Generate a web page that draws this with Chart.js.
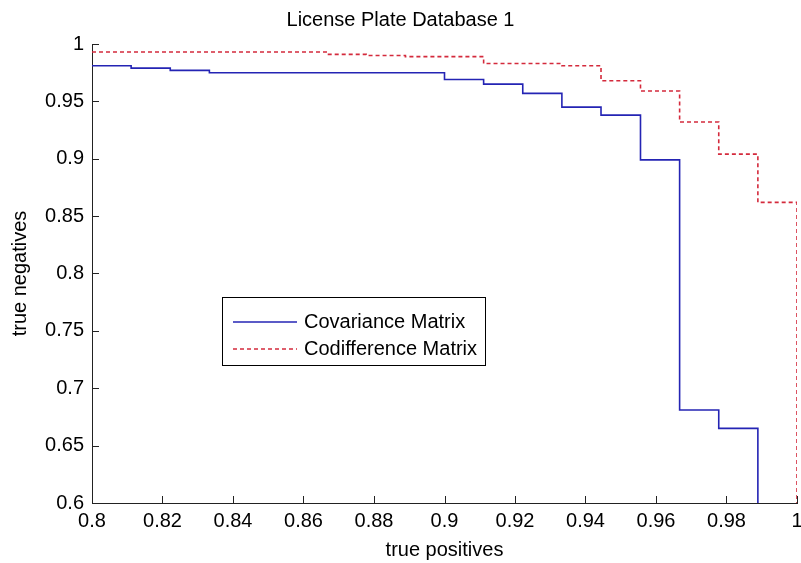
<!DOCTYPE html>
<html>
<head>
<meta charset="utf-8">
<script src="https://cdn.jsdelivr.net/npm/chart.js@4.4.1/dist/chart.umd.min.js"></script>
<style>
  html, body { margin: 0; background: #fff; }
  #wrap { width: 801px; height: 563px; }
</style>
</head>
<body>
<div id="wrap"><canvas id="chart"></canvas></div>
<script>
// true positive rate where each step starts, and the true negative rate after it
const covX = [0.8, 0.8111, 0.8222, 0.8333, 0.9, 0.9111, 0.9222, 0.9333, 0.9444, 0.9556, 0.9667, 0.9778, 0.9889];
const covY = [0.981, 0.979, 0.977, 0.975, 0.969, 0.965, 0.957, 0.945, 0.938, 0.899, 0.681, 0.665, 0.6];

const codX = [0.8, 0.8667, 0.8778, 0.8889, 0.9111, 0.9333, 0.9444, 0.9556, 0.9667, 0.9778, 0.9889, 1.0];
const codY = [0.993, 0.991, 0.990, 0.989, 0.983, 0.981, 0.968, 0.959, 0.932, 0.904, 0.862, 0.6];

const xTicks = [0.8, 0.82, 0.84, 0.86, 0.88, 0.9, 0.92, 0.94, 0.96, 0.98, 1];
const yTicks = [0.6, 0.65, 0.7, 0.75, 0.8, 0.85, 0.9, 0.95, 1];

const seriesNames = ['Covariance Matrix', 'Codifference Matrix'];

const toPoints = (xs, ys) => xs.map((x, i) => ({ x: x, y: ys[i] }));

Chart.defaults.font.family = "'Liberation Sans', Arial, sans-serif";
Chart.defaults.font.size = 20;
Chart.defaults.color = '#000';

// matlab style ticks pointing into the plot
const innerTicks = {
    id: 'innerTicks',
    afterDraw(chart) {
        const { ctx, scales: { x, y }, chartArea } = chart;
        ctx.save();
        ctx.strokeStyle = '#222';
        ctx.lineWidth = 1;
        ctx.beginPath();
        xTicks.forEach(v => {
            const px = Math.round(x.getPixelForValue(v)) + 0.5;
            ctx.moveTo(px, chartArea.bottom);
            ctx.lineTo(px, chartArea.bottom - 7);
        });
        yTicks.forEach(v => {
            const py = Math.round(y.getPixelForValue(v)) + 0.5;
            ctx.moveTo(chartArea.left, py);
            ctx.lineTo(chartArea.left + 7, py);
        });
        ctx.stroke();
        ctx.restore();
    }
};

// boxed legend inside the axes
const boxLegend = {
    id: 'boxLegend',
    afterDraw(chart) {
        const ctx = chart.ctx;
        const left = 222, top = 297, w = 263, h = 68;
        ctx.save();
        ctx.fillStyle = '#fff';
        ctx.fillRect(left, top, w, h);
        ctx.strokeStyle = '#000';
        ctx.lineWidth = 1;
        ctx.strokeRect(left + 0.5, top + 0.5, w, h);
        chart.data.datasets.forEach((ds, i) => {
            const yy = top + 25 + i * 27;
            ctx.beginPath();
            ctx.strokeStyle = ds.borderColor;
            ctx.lineWidth = ds.borderWidth;
            ctx.setLineDash(ds.borderDash || []);
            ctx.moveTo(left + 11, yy);
            ctx.lineTo(left + 75, yy);
            ctx.stroke();
            ctx.setLineDash([]);
            ctx.fillStyle = '#000';
            ctx.font = "20px 'Liberation Sans', Arial, sans-serif";
            ctx.textBaseline = 'middle';
            ctx.fillText(ds.label, left + 82, yy);
        });
        ctx.restore();
    }
};

const chart = document.querySelector('#chart').getContext('2d');

new Chart(chart, {
    type: 'line',
    data: {
        datasets: [
            {
                label: seriesNames[0],
                data: toPoints(covX, covY),
                borderColor: '#2424b4',
                borderWidth: 1.6,
                stepped: 'before',
                pointRadius: 0,
                fill: false
            },
            {
                label: seriesNames[1],
                data: toPoints(codX, codY),
                borderColor: '#d42a3c',
                borderWidth: 1.6,
                borderDash: [4, 3],
                stepped: 'before',
                pointRadius: 0,
                fill: false
            }
        ]
    },
    options: {
        responsive: true,
        maintainAspectRatio: false,
        animation: false,
        layout: { padding: 0 },
        plugins: {
            legend: { display: false },
            tooltip: { enabled: false },
            title: {
                display: true,
                text: 'License Plate Database 1',
                font: { size: 20, weight: 'normal' },
                padding: { top: 8, bottom: 12 }
            }
        },
        scales: {
            x: {
                type: 'linear',
                min: 0.8,
                max: 1,
                afterBuildTicks: s => { s.ticks = xTicks.map(v => ({ value: v })); },
                afterFit: s => { s.height = 60; s.paddingRight = 4; },
                ticks: {
                    padding: 6,
                    maxRotation: 0,
                    callback: v => String(+v.toFixed(2))
                },
                grid: { drawOnChartArea: false, drawTicks: false },
                border: { display: true, color: '#222', width: 1 },
                title: { display: true, text: 'true positives', padding: { top: 0, bottom: 1 } }
            },
            y: {
                min: 0.6,
                max: 1,
                afterBuildTicks: s => { s.ticks = yTicks.map(v => ({ value: v })); },
                afterFit: s => { s.width = 92; },
                ticks: {
                    padding: 8,
                    callback: v => String(+v.toFixed(2))
                },
                grid: { drawOnChartArea: false, drawTicks: false },
                border: { display: true, color: '#222', width: 1 },
                title: { display: true, text: 'true negatives', padding: { top: 8, bottom: 0 } }
            }
        }
    },
    plugins: [innerTicks, boxLegend]
});
</script>
</body>
</html>
